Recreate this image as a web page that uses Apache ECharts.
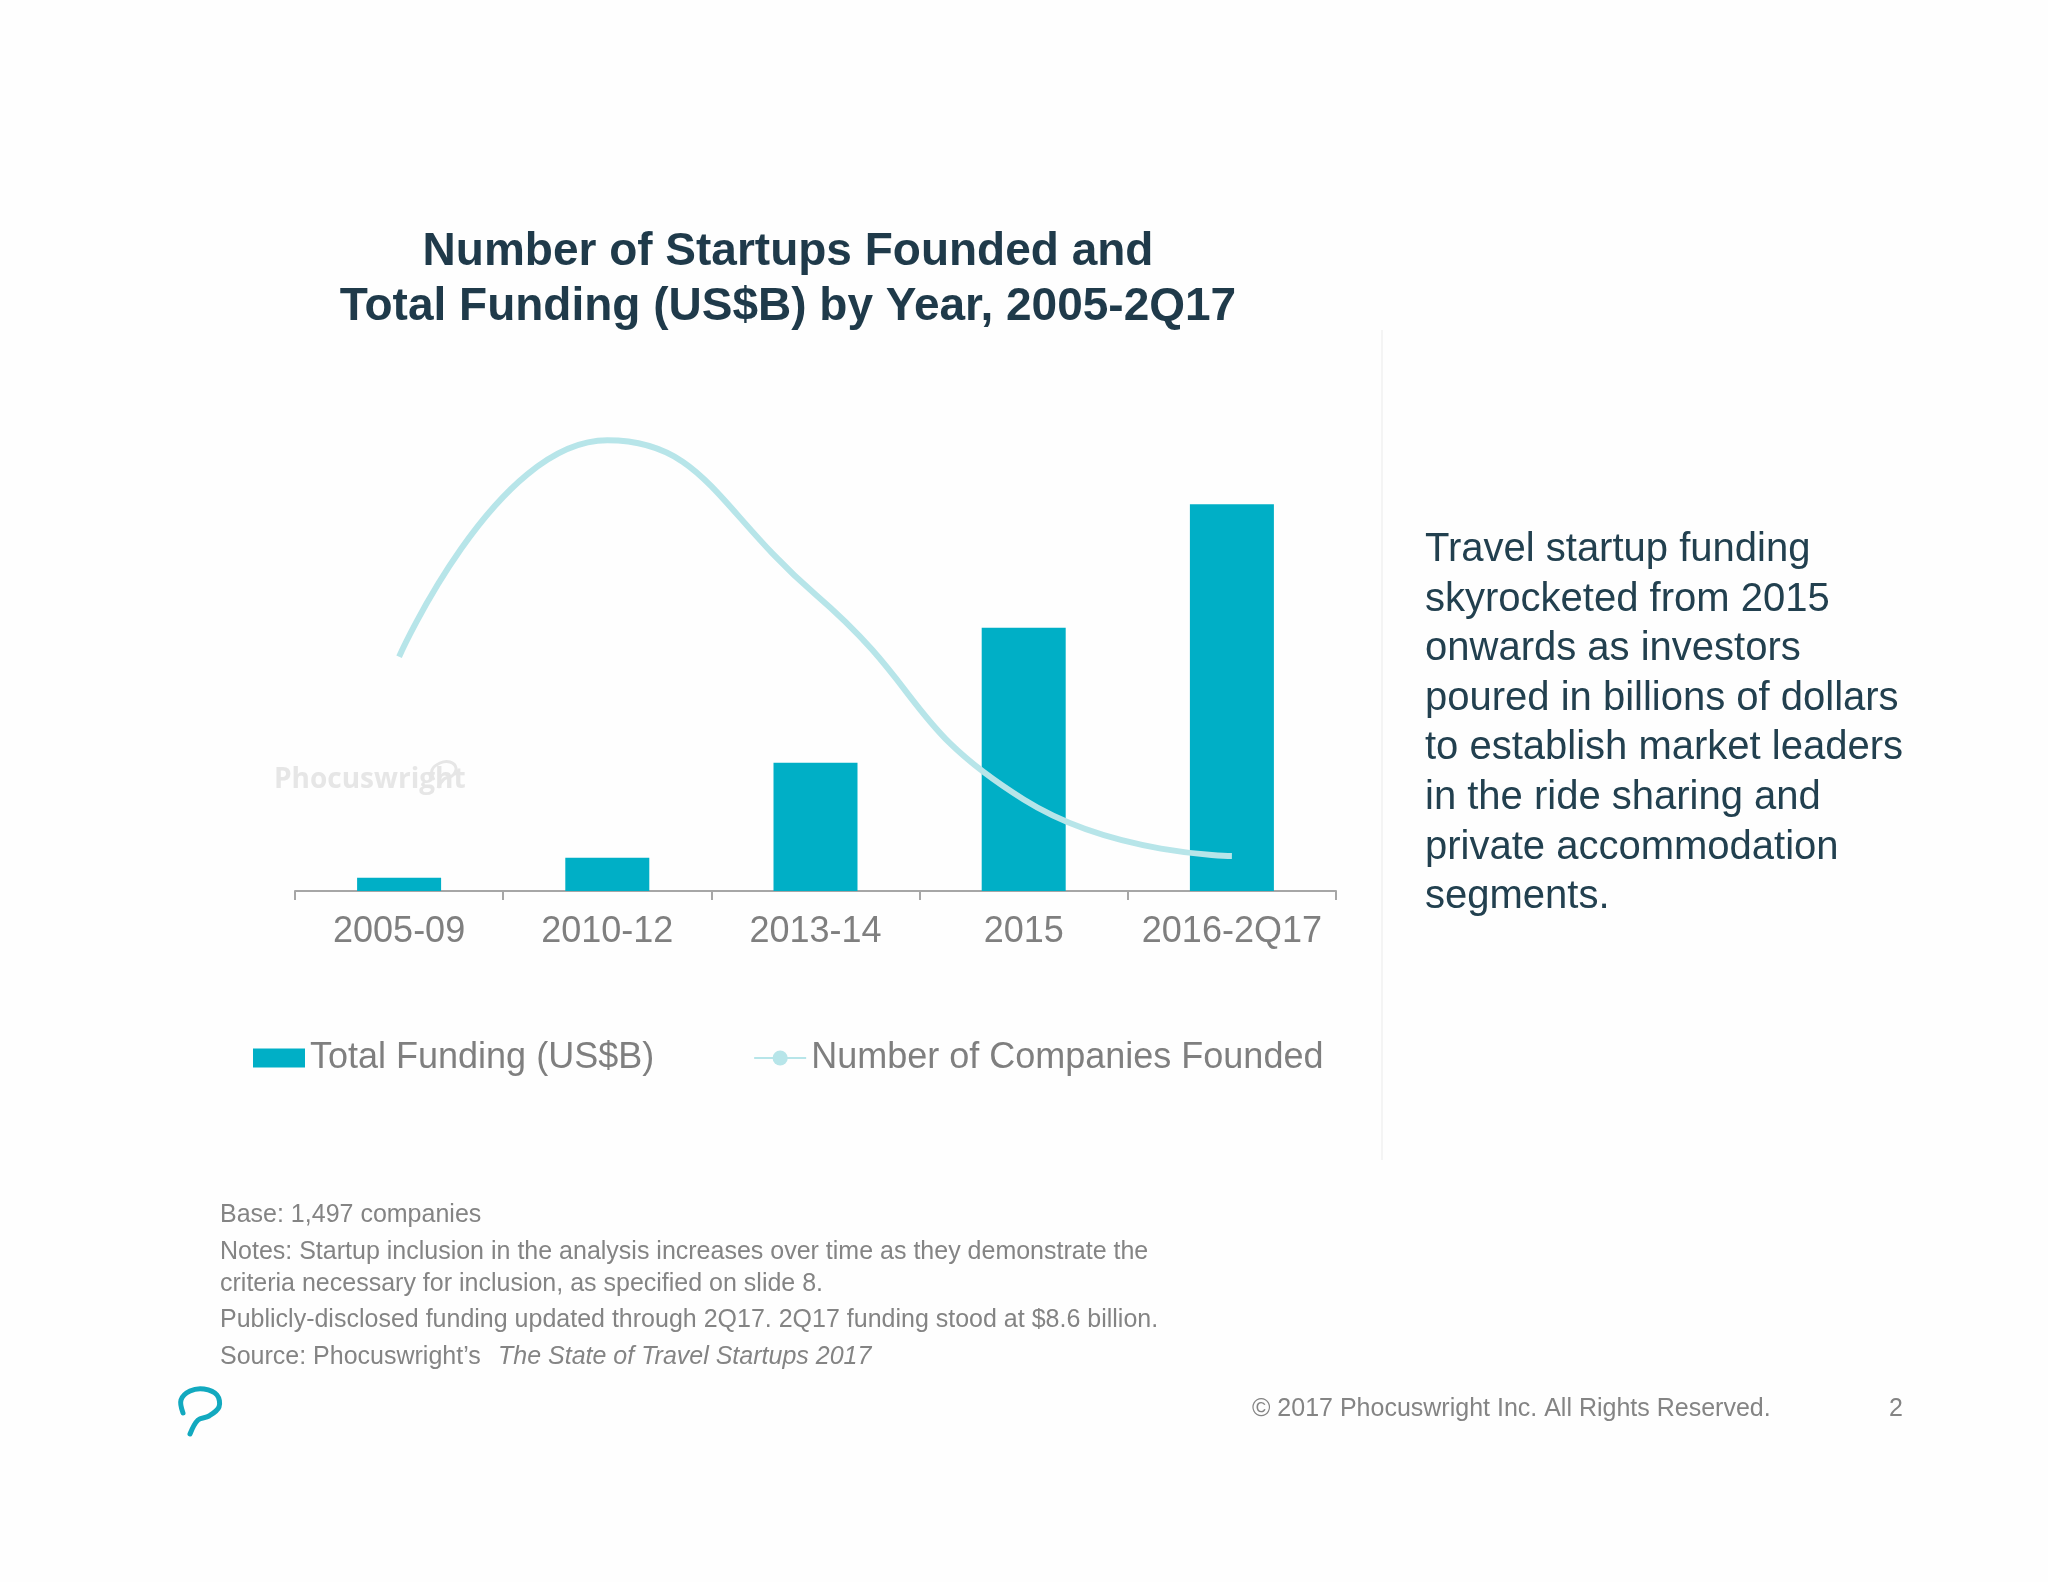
<!DOCTYPE html>
<html><head><meta charset="utf-8">
<style>html,body{margin:0;padding:0;background:#fefefe}#c{width:2048px;height:1582px}</style>
<script src="https://cdn.jsdelivr.net/npm/echarts@6/dist/echarts.min.js"></script></head>
<body><div id="c"></div>
<script>
const categories = ['2005-09','2010-12','2013-14','2015','2016-2Q17'];
const totalFunding = [0.8, 2.0, 7.7, 15.8, 23.2];
const companiesFounded = [328, 631, 415, 128, 49];
const titleLines = 'Number of Startups Founded and\nTotal Funding (US$B) by Year, 2005-2Q17';
const sideText = ['Travel startup funding','skyrocketed from 2015','onwards as investors','poured in billions of dollars','to establish market leaders','in the ride sharing and','private accommodation','segments.'];
const FONT = '"Liberation Sans", Arial, sans-serif';
const noteStyle = {font:'25px '+FONT, fill:'#848484'};
const notes = [
 ['Base: 1,497 companies',1203],
 ['Notes: Startup inclusion in the analysis increases over time as they demonstrate the',1240],
 ['criteria necessary for inclusion, as specified on slide 8.',1272],
 ['Publicly-disclosed funding updated through 2Q17. 2Q17 funding stood at $8.6 billion.',1308]
];
const chart = echarts.init(document.getElementById('c'), null, {renderer:'canvas'});
const graphic = [
 {type:'line',shape:{x1:1382,y1:330,x2:1382,y2:1160},style:{stroke:'#f4f4f4',lineWidth:2},silent:true},
 ...sideText.map((t,i)=>({type:'text',x:1425,y:530+i*49.6,style:{text:t,font:'40px '+FONT,fill:'#22404f'}})),
 ...notes.map(n=>({type:'text',x:220,y:n[1],style:{text:n[0],...noteStyle}})),
 {type:'text',x:220,y:1345,style:{text:"Source: Phocuswright’s",...noteStyle}},
 {type:'text',x:498,y:1345,style:{text:'The State of Travel Startups 2017',font:'italic 25px '+FONT,fill:'#848484'}},
 {type:'text',x:1252,y:1397,style:{text:'© 2017 Phocuswright Inc. All Rights Reserved.',...noteStyle}},
 {type:'text',x:1889,y:1397,style:{text:'2',...noteStyle}},
 {type:'text',x:274,y:766,style:{text:'Phocuswright',font:'bold 28px "Open Sans", '+FONT,fill:'#e6e6e6'}},
 {type:'polyline',shape:{points:[[434,780],[432,770],[440,763],[450,762],[456,768],[452,776],[444,779],[438,788]],smooth:0.4},style:{fill:'none',stroke:'#e6e6e6',lineWidth:3}},
 {type:'polyline',shape:{points:[[183,1413],[181,1400],[190,1391],[204,1389],[217,1395],[219,1407],[209,1416],[198,1420],[190,1434]],smooth:0.35},style:{fill:'none',stroke:'#12a9bf',lineWidth:5,lineCap:'round'}}
];
chart.setOption({
 backgroundColor:'#fefefe',
 animation:false,
 textStyle:{fontFamily:FONT},
 title:{text:titleLines,left:783,top:220,textAlign:'center',
   textStyle:{fontFamily:FONT,fontWeight:'bold',fontSize:46,lineHeight:55,color:'#1f3a4a'}},
 grid:{left:295,top:391,width:1041,height:500,containLabel:false},
 legend:{left:248,top:1035,itemGap:99,itemWidth:52,itemHeight:19,
   textStyle:{fontSize:36,color:'#7f7f7f',fontFamily:FONT},
   data:[{name:'Total Funding (US$B)',icon:'rect'},{name:'Number of Companies Founded'}]},
 xAxis:{type:'category',data:categories,boundaryGap:true,
   axisLine:{lineStyle:{color:'#a6a6a6',width:2}},
   axisTick:{show:true,length:9,lineStyle:{color:'#a6a6a6',width:2}},
   axisLabel:{fontSize:36,color:'#7f7f7f',margin:23,fontFamily:FONT,interval:0}},
 yAxis:[{type:'value',min:0,max:30,show:false,splitLine:{show:false}},
        {type:'value',min:0,max:700,show:false,splitLine:{show:false}}],
 series:[
  {name:'Total Funding (US$B)',type:'bar',data:totalFunding,barWidth:84,itemStyle:{color:'#00afc6'}},
  {name:'Number of Companies Founded',type:'line',yAxisIndex:1,data:companiesFounded,smooth:0.5,symbol:'none',
   lineStyle:{color:'#b7e5e9',width:6},itemStyle:{color:'#b7e5e9'}}
 ],
 graphic
});
</script></body></html>
